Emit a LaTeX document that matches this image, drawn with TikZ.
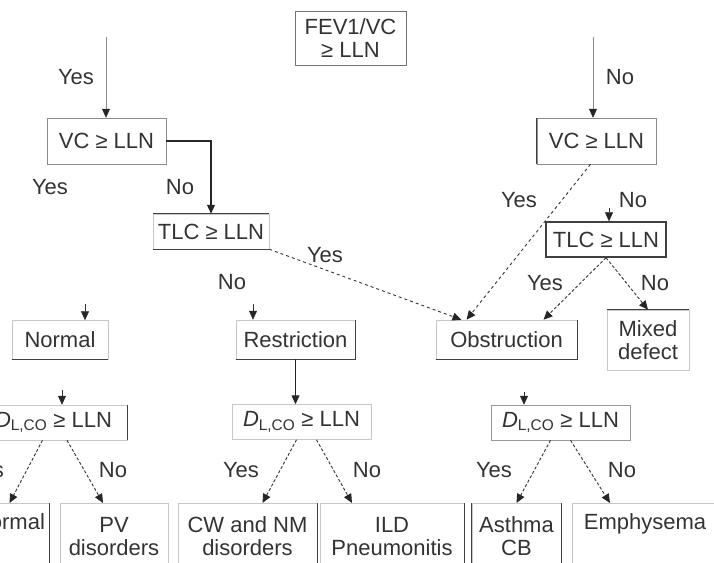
\documentclass[tikz,border=0pt]{standalone}
\usepackage{fontspec}
\setmainfont{Liberation Sans}
\usetikzlibrary{arrows.meta}
\newcommand{\dlco}{\textit{D}\textsubscript{L,CO} ≥ LLN}
\begin{document}
\begin{tikzpicture}[x=1pt, y=-1pt, every node/.style = {shape=rectangle, draw=black!22, line width=0.5pt, align=center,
text=black!80, font=\fontsize{22}{23}\selectfont, inner sep=2pt}, >={Triangle[width=8pt,length=9pt,color=black!85]}]
	\tikzstyle{box} = [minimum height=35pt]
	\tikzstyle{leaf} = [minimum height=66pt, anchor=north]
	\tikzstyle{lab} = [draw=none]
	\tikzstyle{rim} = [black!75, line width=1.4pt]
	\tikzstyle{thin} = [->, black!45, line width=0.5pt]
	\tikzstyle{firm} = [->, black!85, line width=1.2pt]
	\tikzstyle{dashy} = [->, black!80, line width=0.9pt, dashed]
	\tikzstyle{dotty} = [->, black!80, line width=0.9pt, densely dashed]
	\useasboundingbox (0,0) rectangle (714,562);
	\clip (0,0) rectangle (714,562);
	% top
	\node[box, draw=black!55, minimum width=111pt, minimum height=54pt] (fev) at (350.5,38) {FEV1/VC\\ ≥ LLN};
	\node[box, draw=black!45, minimum width=119pt, minimum height=46pt] (vcL) at (106.5,141) {VC ≥ LLN};
	\node[box, draw=black!45, minimum width=119pt, minimum height=46pt] (vcR) at (596.5,141) {VC ≥ LLN};
	\node[box, minimum width=116pt] (tlcL) at (211,231.5) {TLC ≥ LLN};
	\node[box, draw=black!75, line width=1.4pt, minimum width=120pt] (tlcR) at (606,239.5) {TLC ≥ LLN};
	% patterns
	\node[box, minimum width=96pt, minimum height=39pt] (normU) at (60,340) {Normal};
	\node[box, minimum width=119pt, minimum height=39pt] (restr) at (295.5,339.5) {Restriction};
	\node[box, minimum width=141pt, minimum height=39pt] (obst) at (506.5,339.5) {Obstruction};
	\node[box, minimum width=82pt, minimum height=60pt] (mixed) at (648,340) {Mixed\\defect};
	% diffusion
	\node[box, minimum width=147pt] (dlcoL) at (53.5,422.5) {\dlco};
	\node[box, minimum width=139pt] (dlcoM) at (301.5,422) {\dlco};
	\node[box, draw=black!40, minimum width=139pt] (dlcoR) at (560.5,422.5) {\dlco};
	% causes
	\node[leaf, minimum width=79pt] (normB) at (9.5,503) {Normal\\\strut};
	\node[leaf, minimum width=108pt] (pv) at (114,503) {PV\\disorders};
	\node[leaf, minimum width=139pt] (cw) at (247.5,503) {CW and NM\\disorders};
	\node[leaf, minimum width=144pt] (ild) at (392,503) {ILD\\Pneumonitis};
	\node[leaf, minimum width=89pt] (asth) at (516.5,503) {Asthma\\CB};
	\node[leaf, minimum width=146pt] (emph) at (645,503) {Emphysema\\\strut};
	% darker edges
	\draw[rim] (tlcL.north west) -- (tlcL.north east);
	\draw[rim] (tlcL.south west) -- (tlcL.south east);
	\draw[rim] (normU.south west) -- (normU.south east);
	\draw[rim] (restr.south west) -- (restr.south east) -- (restr.north east);
	\draw[rim] (obst.south west) -- (obst.south east) -- (obst.north east);
	\draw[rim] (mixed.north west) -- (mixed.north east);
	\draw[rim] (vcR.north west) -- (vcR.south west);
	\draw[rim] (dlcoL.north east) -- (dlcoL.south east);
	\draw[rim] (normB.north east) -- (normB.south east);
	\draw[rim] (cw.north east) -- (cw.south east);
	\draw[rim] (ild.north east) -- (ild.south east);
	\draw[rim] (asth.north west) -- (asth.south west);
	\draw[rim] (asth.north east) -- (asth.south east);
	% connectors
	\coordinate (yesTop) at (106,37);
	\coordinate (noTop) at (593,37);
	\draw[thin] (yesTop) -- (yesTop |- vcL.north);
	\draw[thin] (noTop) -- (noTop |- vcR.north);
	\draw[firm] (vcL.east) -| (tlcL.north);
	\draw[dashy] (tlcL.south east) -- ([xshift=-45pt]obst.north);
	\draw[dashy] ([xshift=-6pt]vcR.south) -- ([xshift=-40pt]obst.north);
	\draw[dotty] (tlcR.south) -- ([xshift=37pt]obst.north);
	\draw[dotty] (tlcR.south) -- (mixed.north);
	\draw[firm] (restr.south) -- (restr.south |- dlcoM.north);
	\draw[dotty] ([xshift=-11pt]dlcoL.south) -- (normB.north);
	\draw[dotty] ([xshift=13.5pt]dlcoL.south) -- ([xshift=-11pt]pv.north);
	\draw[dotty] ([xshift=-5pt]dlcoM.south) -- ([xshift=15pt]cw.north);
	\draw[dotty] ([xshift=15pt]dlcoM.south) -- ([xshift=-40pt]ild.north);
	\draw[dotty] ([xshift=-10pt]dlcoR.south) -- (asth.north);
	\draw[dotty] ([xshift=10pt]dlcoR.south) -- ([xshift=-35pt]emph.north);
	% loose arrowheads
	\coordinate (s1) at (85,304);
	\coordinate (s2) at (253,304);
	\coordinate (s3) at (62,390);
	\coordinate (s4) at (524,392);
	\coordinate (s5) at (609,208);
	\draw[thin, black!80] (s1) -- (s1 |- normU.north);
	\draw[thin, black!80] (s2) -- (s2 |- restr.north);
	\draw[thin, black!80] (s3) -- (s3 |- dlcoL.north);
	\draw[thin, black!80] (s4) -- (s4 |- dlcoR.north);
	\draw[thin, black!80] (s5) -- (s5 |- tlcR.north);
	% answers
	\node[lab] at (76,77) {Yes};
	\node[lab] at (620,77) {No};
	\node[lab] at (50,187) {Yes};
	\node[lab] at (180,187) {No};
	\node[lab] at (325,255) {Yes};
	\node[lab] at (232,282) {No};
	\node[lab] at (519,200) {Yes};
	\node[lab] at (633,200) {No};
	\node[lab] at (545,283) {Yes};
	\node[lab] at (655,283) {No};
	\node[lab] at (-14,470) {Yes};
	\node[lab] at (113,470) {No};
	\node[lab] at (241,470) {Yes};
	\node[lab] at (367,470) {No};
	\node[lab] at (494,470) {Yes};
	\node[lab] at (622,470) {No};
\end{tikzpicture}
\end{document}
